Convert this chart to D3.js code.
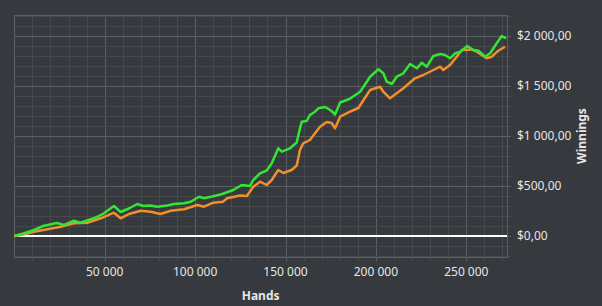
<!DOCTYPE html>
<html>
<head>
<meta charset="utf-8">
<script src="https://cdn.jsdelivr.net/npm/d3@7"></script>
<style>
  html, body { margin: 0; padding: 0; background: #36393d; }
  svg { display: block; }
  text { font-family: "Noto Sans", "Open Sans", sans-serif; fill: #e6e6e6; }
</style>
</head>
<body>
<div id="chart"></div>
<script>
// Hands played (x) and winnings in $ (y)
const greenHands = [0, 5000, 10900, 16000, 23500, 27500, 33000, 36600, 44000, 49200, 55100, 58800, 63400, 68000, 71400, 75000, 79100, 84600, 88300, 93900, 97600, 102200, 104900, 109500, 115000, 121100, 125800, 130400, 132200, 135900, 139600, 142400, 146000, 147900, 152500, 156200, 158000, 159000, 161700, 163500, 166300, 168200, 171900, 175500, 177400, 180200, 183900, 186000, 191300, 196800, 201400, 204100, 206000, 208800, 211500, 215200, 218900, 222600, 225400, 228100, 231800, 235500, 238200, 241000, 243800, 246500, 250600, 253900, 256700, 260400, 263200, 266800, 269600, 272000];
const greenWin = [0, 25, 60, 100, 130, 110, 153, 133, 177, 222, 300, 240, 275, 320, 300, 305, 293, 305, 320, 327, 343, 393, 377, 395, 420, 460, 510, 500, 560, 627, 655, 727, 877, 843, 877, 935, 1077, 1143, 1150, 1210, 1243, 1277, 1290, 1250, 1215, 1335, 1360, 1377, 1443, 1593, 1667, 1627, 1543, 1520, 1593, 1627, 1720, 1677, 1733, 1693, 1800, 1820, 1810, 1777, 1827, 1840, 1900, 1860, 1853, 1793, 1827, 1927, 2000, 1977];

const orangeHands = [0, 5000, 10900, 18300, 25700, 33000, 40400, 47800, 55100, 58800, 63400, 69900, 75400, 80800, 86500, 93900, 101200, 104900, 110100, 115400, 117700, 124900, 128600, 132200, 135900, 139600, 142400, 146000, 148800, 153400, 156200, 158000, 159800, 163500, 166300, 169100, 172800, 175500, 177400, 180200, 185700, 190300, 196800, 202300, 204100, 207800, 211500, 215200, 221600, 226200, 231800, 235500, 237300, 241000, 244700, 247500, 250200, 253000, 255800, 261300, 264100, 267700, 271400];
const orangeWin = [0, 15, 43, 67, 93, 127, 133, 177, 233, 177, 220, 253, 243, 220, 253, 267, 310, 293, 333, 343, 377, 405, 400, 493, 543, 510, 560, 660, 630, 660, 705, 860, 927, 960, 1027, 1093, 1140, 1130, 1077, 1193, 1243, 1280, 1460, 1493, 1443, 1377, 1427, 1477, 1577, 1610, 1660, 1693, 1660, 1710, 1793, 1860, 1860, 1867, 1843, 1777, 1793, 1853, 1893];

const xTickValues = [50000, 100000, 150000, 200000, 250000];
const yTickValues = [0, 500, 1000, 1500, 2000];

const width = 602, height = 306;
const plot = { left: 14.3, right: 507, top: 15, bottom: 257 };

const svg = d3.select("#chart").append("svg")
    .attr("width", width)
    .attr("height", height);

const x = d3.scaleLinear().domain([0, 272500]).range([plot.left, plot.right]);
const y = d3.scaleLinear().domain([-210, 2210]).range([plot.bottom, plot.top]);

const fmtHands = d => d3.format(",")(d).replace(/,/g, " ");
const fmtMoney = d => "$" + d3.format(",")(d).replace(/,/g, " ") + ",00";

// Grid, minor every 10 000 hands / $100, major every 50 000 / $500
const minorX = d3.range(10000, 272500, 10000);
const minorY = d3.range(-200, 2210, 100);

svg.append("g").selectAll("line")
    .data(minorX)
    .join("line")
    .attr("x1", d => Math.round(x(d)) + 0.5).attr("x2", d => Math.round(x(d)) + 0.5)
    .attr("y1", plot.top).attr("y2", plot.bottom + 4)
    .attr("stroke", d => d % 50000 === 0 ? "#5b5e62" : "#46494d");

svg.append("g").selectAll("line")
    .data(minorY)
    .join("line")
    .attr("x1", plot.left).attr("x2", plot.right + 4)
    .attr("y1", d => Math.round(y(d)) + 0.5).attr("y2", d => Math.round(y(d)) + 0.5)
    .attr("stroke", d => d % 500 === 0 ? "#5b5e62" : "#46494d");

// Plot frame
svg.append("rect")
    .attr("x", Math.round(plot.left) + 0.5)
    .attr("y", plot.top + 0.5)
    .attr("width", Math.round(plot.right) - Math.round(plot.left))
    .attr("height", plot.bottom - plot.top)
    .attr("fill", "none")
    .attr("stroke", "#5b5e62");

// Zero line
svg.append("line")
    .attr("x1", plot.left).attr("x2", plot.right)
    .attr("y1", y(0)).attr("y2", y(0))
    .attr("stroke", "#ffffff")
    .attr("stroke-width", 2);

// Series
const line = d3.line()
    .x(d => x(d[0]))
    .y(d => y(d[1]));

svg.append("path")
    .datum(orangeHands.map((h, i) => [h, orangeWin[i]]))
    .attr("d", line)
    .attr("fill", "none")
    .attr("stroke", "#f28f2c")
    .attr("stroke-width", 2.5)
    .attr("stroke-linejoin", "round");

svg.append("path")
    .datum(greenHands.map((h, i) => [h, greenWin[i]]))
    .attr("d", line)
    .attr("fill", "none")
    .attr("stroke", "#33e534")
    .attr("stroke-width", 2.5)
    .attr("stroke-linejoin", "round");

// Tick labels and titles
svg.append("g").selectAll("text")
    .data(xTickValues)
    .join("text")
    .attr("x", d => x(d))
    .attr("y", 276)
    .attr("text-anchor", "middle")
    .attr("font-size", 12)
    .text(fmtHands);

svg.append("g").selectAll("text")
    .data(yTickValues)
    .join("text")
    .attr("x", 517)
    .attr("y", d => y(d) + 4)
    .attr("font-size", 12)
    .text(fmtMoney);

svg.append("text")
    .attr("x", (plot.left + plot.right) / 2)
    .attr("y", 300)
    .attr("text-anchor", "middle")
    .attr("font-size", 12)
    .attr("font-weight", "bold")
    .text("Hands");

svg.append("text")
    .attr("transform", "translate(586," + (plot.top + plot.bottom) / 2 + ") rotate(-90)")
    .attr("text-anchor", "middle")
    .attr("font-size", 12)
    .attr("font-weight", "bold")
    .text("Winnings");
</script>
</body>
</html>
